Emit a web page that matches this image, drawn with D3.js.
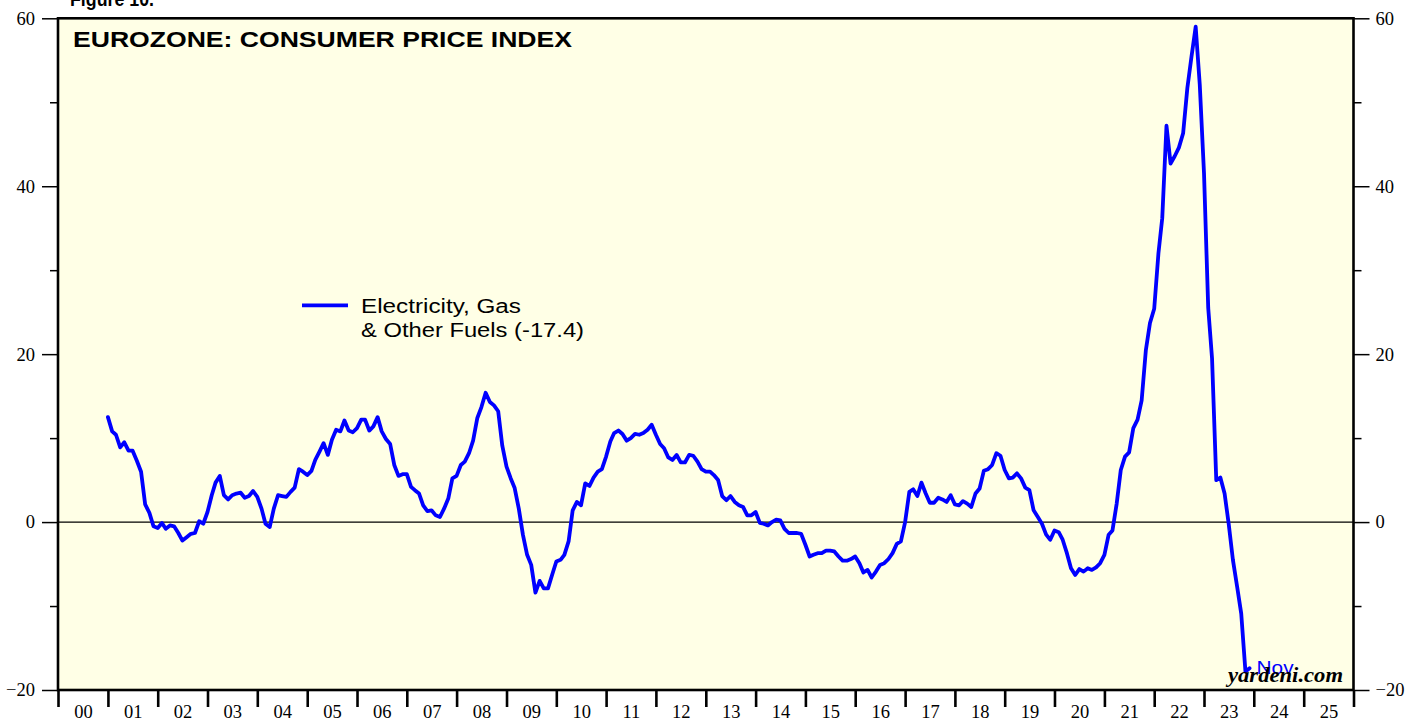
<!DOCTYPE html>
<html><head><meta charset="utf-8">
<script src="https://cdn.jsdelivr.net/npm/d3@7"></script>
<style>html,body{margin:0;padding:0;background:#fff;} svg{display:block;}</style>
</head><body>
<svg id="chart" width="1405" height="721"></svg>
<script>
// ---------------- DATA ----------------
const figureLabel = "Figure 10.";
const chartTitle = "EUROZONE: CONSUMER PRICE INDEX";
const legendLines = ["Electricity, Gas", "& Other Fuels (-17.4)"];
const lastMonthLabel = "Nov";
const sourceLabel = "yardeni.com";

// first observation: Dec 2000 (year, 0-based month); monthly yoy % change
const firstObs = [2000, 11];
const electricityGasFuels = [
  12.5, 10.8, 10.4, 8.9, 9.5, 8.5, 8.5, 7.3, 6.0, 2.1, 1.1, -0.5,        // Dec00-Nov01
  -0.7, -0.1, -0.8, -0.4, -0.5, -1.3, -2.2, -1.8, -1.4, -1.3, 0.1, -0.2, // Dec01-Nov02
  1.2, 3.2, 4.7, 5.5, 3.2, 2.7, 3.2, 3.4, 3.5, 2.9, 3.1, 3.7,            // Dec02-Nov03
  3.0, 1.6, -0.2, -0.6, 1.6, 3.2, 3.1, 3.0, 3.6, 4.1, 6.3, 6.0,          // Dec03-Nov04
  5.6, 6.1, 7.4, 8.4, 9.4, 8.0, 9.8, 11.0, 10.8, 12.1, 10.9, 10.7,       // Dec04-Nov05
  11.2, 12.2, 12.2, 10.9, 11.4, 12.5, 10.8, 9.9, 9.3, 6.8, 5.5, 5.7,     // Dec05-Nov06
  5.7, 4.2, 3.8, 3.4, 2.0, 1.3, 1.4, 0.8, 0.6, 1.6, 2.8, 5.2,            // Dec06-Nov07
  5.5, 6.8, 7.2, 8.2, 9.7, 12.4, 13.7, 15.4, 14.3, 13.9, 13.2, 9.1,      // Dec07-Nov08
  6.6, 5.2, 4.1, 1.6, -1.5, -3.9, -5.1, -8.4, -7.0, -7.9, -7.9, -6.3,    // Dec08-Nov09
  -4.7, -4.5, -3.9, -2.3, 1.4, 2.4, 2.0, 4.6, 4.3, 5.3, 6.0, 6.3,        // Dec09-Nov10
  7.8, 9.6, 10.6, 10.9, 10.5, 9.7, 10.0, 10.5, 10.4, 10.6, 11.0, 11.6,   // Dec10-Nov11
  10.4, 9.3, 8.8, 7.7, 7.4, 8.0, 7.1, 7.1, 8.0, 7.9, 7.2, 6.3,           // Dec11-Nov12
  6.0, 6.0, 5.6, 5.0, 3.1, 2.6, 3.1, 2.4, 2.0, 1.8, 0.8, 0.8,            // Dec12-Nov13
  1.2, -0.1, -0.2, -0.4, 0.0, 0.3, 0.2, -0.8, -1.3, -1.3, -1.3, -1.4,    // Dec13-Nov14
  -2.7, -4.1, -3.9, -3.7, -3.7, -3.4, -3.4, -3.5, -4.1, -4.6, -4.6, -4.4,// Dec14-Nov15
  -4.1, -4.9, -6.0, -5.7, -6.6, -5.9, -5.1, -4.9, -4.4, -3.7, -2.6, -2.3,// Dec15-Nov16
  0.0, 3.6, 3.9, 3.1, 4.7, 3.4, 2.3, 2.3, 2.9, 2.7, 2.4, 3.2,            // Dec16-Nov17
  2.1, 2.0, 2.5, 2.2, 1.8, 3.4, 4.0, 6.1, 6.3, 6.8, 8.2, 7.9,            // Dec17-Nov18
  6.2, 5.2, 5.3, 5.8, 5.2, 4.1, 3.8, 1.4, 0.6, -0.2, -1.5, -2.1,         // Dec18-Nov19
  -1.0, -1.2, -2.1, -3.7, -5.5, -6.3, -5.6, -5.9, -5.5, -5.7, -5.4, -4.9,// Dec19-Nov20
  -3.9, -1.5, -1.0, 2.2, 6.2, 7.8, 8.3, 11.2, 12.2, 14.5, 20.5, 23.7,    // Dec20-Nov21
  25.4, 32.0, 36.2, 47.2, 42.7, 43.6, 44.6, 46.3, 51.7, 55.4, 59.0, 52.1,// Dec21-Nov22
  41.6, 25.5, 19.5, 5.0, 5.3, 3.4, -0.2, -4.5, -7.7, -10.9, -17.8, -17.4 // Dec22-Nov23
];
const yMajorTicks = [-20, 0, 20, 40, 60];
const yMinorTicks = [-10, 10, 30, 50];
const yearTickLabels = ["00","01","02","03","04","05","06","07","08","09","10","11","12",
  "13","14","15","16","17","18","19","20","21","22","23","24","25"];
const firstYear = 2000;

// ---------------- CHART ----------------
const svg = d3.select("#chart");
const plot = {left: 58, right: 1353.5, top: 18.3, bottom: 690};
const serif = "'Liberation Serif','Times New Roman',serif";
const sans = "'Liberation Sans',Arial,Helvetica,sans-serif";

const x = d3.scaleTime()
  .domain([new Date(firstYear, 0, 1), new Date(firstYear + yearTickLabels.length, 0, 1)])
  .range([plot.left, plot.right]);
const y = d3.scaleLinear().domain([-20, 60]).range([plot.bottom, plot.top]);

// observations plotted at month end
const series = electricityGasFuels.map((v, i) => ({
  date: new Date(firstObs[0], firstObs[1] + i + 1, 1), value: v
}));

// figure label (cut off at top)
svg.append("text").attr("x", 70).attr("y", 6)
  .attr("font-family", sans).attr("font-weight", "bold").attr("font-size", 21)
  .attr("textLength", 84).attr("lengthAdjust", "spacingAndGlyphs")
  .text(figureLabel);

// plot background
svg.append("rect")
  .attr("x", plot.left).attr("y", plot.top)
  .attr("width", plot.right - plot.left).attr("height", plot.bottom - plot.top)
  .attr("fill", "#ffffe6");

// zero line
svg.append("line")
  .attr("x1", plot.left).attr("x2", plot.right)
  .attr("y1", y(0)).attr("y2", y(0))
  .attr("stroke", "#000").attr("stroke-width", 1.2);

// series line
const line = d3.line().x(d => x(d.date)).y(d => y(d.value));
svg.append("path").datum(series)
  .attr("d", line).attr("fill", "none")
  .attr("stroke", "#0000ff").attr("stroke-width", 3.8)
  .attr("stroke-linejoin", "round").attr("stroke-linecap", "round");

// title
svg.append("text").attr("x", 73).attr("y", 47)
  .attr("font-family", sans).attr("font-weight", "bold").attr("font-size", 21.5)
  .attr("textLength", 499).attr("lengthAdjust", "spacingAndGlyphs")
  .text(chartTitle);

// legend
const legendY = y(25.8);
svg.append("line").attr("x1", 302).attr("x2", 348)
  .attr("y1", legendY).attr("y2", legendY)
  .attr("stroke", "#0000ff").attr("stroke-width", 3.8);
const legendLens = [160, 223];
legendLines.forEach((t, i) => {
  svg.append("text").attr("x", 361).attr("y", legendY + 7.5 + i * 24.5)
    .attr("font-family", sans).attr("font-size", 20)
    .attr("textLength", legendLens[i]).attr("lengthAdjust", "spacingAndGlyphs")
    .text(t);
});

// last month label
const last = series[series.length - 1];
svg.append("text").attr("x", x(last.date) + 7).attr("y", y(last.value) + 6)
  .attr("font-family", sans).attr("font-size", 18).attr("fill", "#0000ff")
  .attr("textLength", 37).attr("lengthAdjust", "spacingAndGlyphs")
  .text(lastMonthLabel);

// source
svg.append("text").attr("x", 1343).attr("y", 682).attr("text-anchor", "end")
  .attr("font-family", serif).attr("font-weight", "bold").attr("font-style", "italic")
  .attr("font-size", 20)
  .attr("textLength", 115).attr("lengthAdjust", "spacingAndGlyphs")
  .text(sourceLabel);

// plot border
svg.append("rect")
  .attr("x", plot.left).attr("y", plot.top)
  .attr("width", plot.right - plot.left).attr("height", plot.bottom - plot.top)
  .attr("fill", "none").attr("stroke", "#000").attr("stroke-width", 2.6);

// axes helpers
function styleAxis(g, width) {
  g.select(".domain").remove();
  g.selectAll(".tick line").attr("stroke", "#000").attr("stroke-width", width);
  g.selectAll(".tick text").attr("fill", "#000")
    .attr("font-family", serif).attr("font-size", 18.5);
}

// Y axes left
svg.append("g").attr("transform", `translate(${plot.left},0)`)
  .call(d3.axisLeft(y).tickValues(yMajorTicks).tickSize(16).tickPadding(7).tickFormat(d3.format("d")))
  .call(g => styleAxis(g, 1.5));
svg.append("g").attr("transform", `translate(${plot.left},0)`)
  .call(d3.axisLeft(y).tickValues(yMinorTicks).tickSize(8).tickFormat(""))
  .call(g => styleAxis(g, 1.5));
// Y axes right
svg.append("g").attr("transform", `translate(${plot.right},0)`)
  .call(d3.axisRight(y).tickValues(yMajorTicks).tickSize(16).tickPadding(6).tickFormat(d3.format("d")))
  .call(g => styleAxis(g, 1.5));
svg.append("g").attr("transform", `translate(${plot.right},0)`)
  .call(d3.axisRight(y).tickValues(yMinorTicks).tickSize(8).tickFormat(""))
  .call(g => styleAxis(g, 1.5));

// X axis: year boundary ticks
const yearStarts = d3.range(yearTickLabels.length + 1).map(i => new Date(firstYear + i, 0, 1));
svg.append("g").attr("transform", `translate(0,${plot.bottom})`)
  .call(d3.axisBottom(x).tickValues(yearStarts).tickSize(17).tickFormat(""))
  .call(g => styleAxis(g, 2.6));
// X axis: labels centred in each year
const yearMids = yearTickLabels.map((_, i) => new Date(firstYear + i, 6, 2));
svg.append("g").attr("transform", `translate(0,${plot.bottom})`)
  .call(d3.axisBottom(x).tickValues(yearMids).tickSize(0).tickPadding(15)
    .tickFormat((d, i) => yearTickLabels[i]))
  .call(g => styleAxis(g, 0));
</script>
</body></html>
